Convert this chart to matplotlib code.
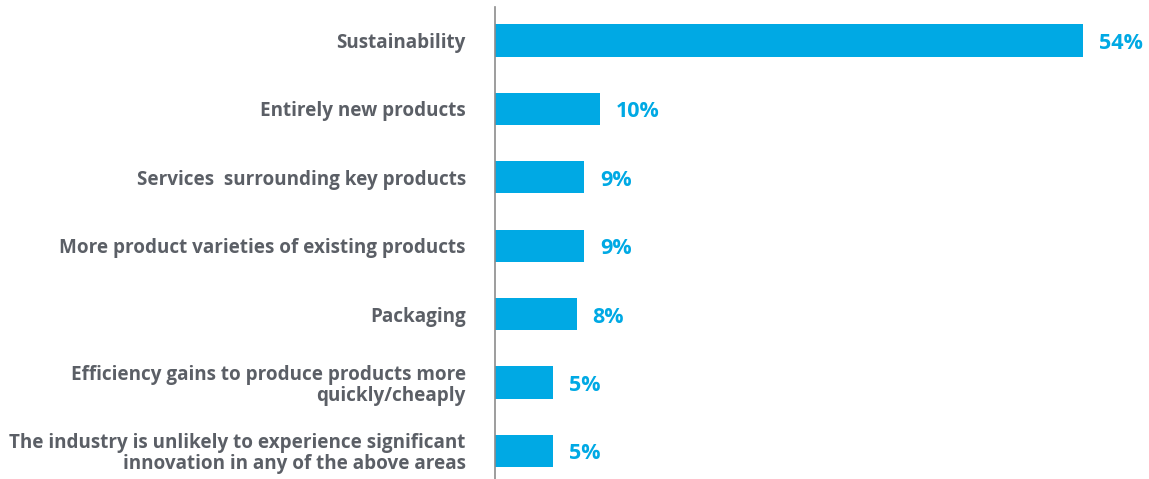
import matplotlib.pyplot as plt

# Категории (сверху вниз)
categories = [
    'Sustainability',
    'Entirely new products',
    'Services  surrounding key products',
    'More product varieties of existing products',
    'Packaging',
    'Efficiency gains to produce products more\nquickly/cheaply',
    'The industry is unlikely to experience significant\ninnovation in any of the above areas',
]
# Длины столбцов
values = [54, 9.6, 8.2, 8.2, 7.5, 5.3, 5.3]
# Подписи значений
value_labels = ['54%', '10%', '9%', '9%', '8%', '5%', '5%']

bar_color = '#00A9E4'
text_gray = '#5B5F66'

plt.rcParams['font.family'] = ['Open Sans', 'DejaVu Sans']

fig = plt.figure(figsize=(11.49, 4.79), dpi=100)
ax = fig.add_axes([495 / 1149, 0, 1 - 495 / 1149, 1 - 7 / 479])

pos = list(range(len(categories)))
ax.barh(pos, values, height=0.47, color=bar_color)

for p, v, lab in zip(pos, values, value_labels):
    ax.annotate(lab, (v, p), xytext=(16, -3), textcoords='offset pixels',
                ha='left', va='center', fontsize=15.5, fontweight='bold',
                color=bar_color)

ax.set_xlim(0, 60.06)
ax.set_ylim(6.41, -0.49)
ax.set_yticks(pos)
ax.set_yticklabels(categories, fontsize=13.6, fontweight='bold', color=text_gray,
                   linespacing=1.05)
ax.tick_params(axis='y', length=0, pad=21)
ax.set_xticks([])

for s in ['top', 'right', 'bottom']:
    ax.spines[s].set_visible(False)
ax.spines['left'].set_color('#8C8C8C')
ax.spines['left'].set_linewidth(1.2)

plt.savefig('out.png', dpi=100)
